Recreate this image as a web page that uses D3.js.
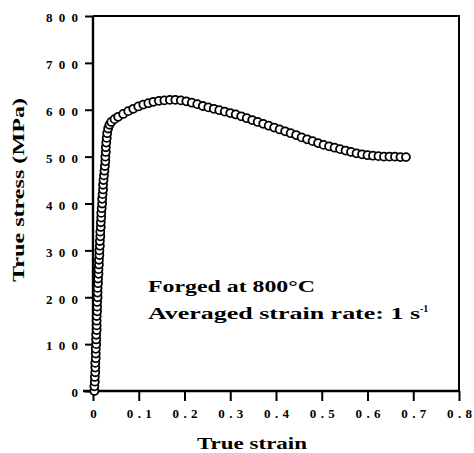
<!DOCTYPE html>
<html>
<head>
<meta charset="utf-8">
<script src="https://cdn.jsdelivr.net/npm/d3@7"></script>
<style>
  html, body { margin: 0; padding: 0; background: #fff; }
  svg { display: block; }
  text { font-family: "Liberation Serif", "Times New Roman", serif; font-weight: bold; fill: #000; }
</style>
</head>
<body>
<svg id="chart" width="474" height="453"></svg>
<script>
// Flow curve: true strain vs. true stress (MPa)
const strain = [
  0.003, 0.003, 0.004, 0.004, 0.005, 0.005, 0.005, 0.006, 0.006, 0.006,
  0.007, 0.007, 0.007, 0.008, 0.008, 0.008, 0.008, 0.009, 0.009, 0.009,
  0.010, 0.010, 0.010, 0.011, 0.011, 0.012, 0.012, 0.013, 0.013, 0.014,
  0.014, 0.015, 0.015, 0.016, 0.016, 0.017, 0.017, 0.018, 0.018, 0.019,
  0.020, 0.020, 0.021, 0.022, 0.022, 0.023, 0.024, 0.025, 0.026, 0.027,
  0.027, 0.028, 0.028, 0.029, 0.030, 0.031, 0.033, 0.036, 0.040,
  0.047, 0.055, 0.066, 0.077, 0.088, 0.099, 0.110, 0.121, 0.132, 0.144,
  0.156, 0.168, 0.180, 0.192, 0.204, 0.216, 0.228, 0.240, 0.252, 0.264,
  0.276, 0.288, 0.300, 0.312, 0.324, 0.336, 0.348, 0.360, 0.372, 0.384,
  0.396, 0.408, 0.420, 0.432, 0.444, 0.456, 0.468, 0.480, 0.492, 0.504,
  0.516, 0.528, 0.540, 0.552, 0.564, 0.576, 0.588, 0.600, 0.612, 0.624,
  0.636, 0.648, 0.660, 0.672, 0.684
];
const stress = [
  0, 10, 20, 30, 40, 50, 60, 70, 80, 90,
  100, 110, 120, 130, 140, 150, 160, 170, 180, 190,
  200, 210, 220, 230, 240, 250, 260, 270, 280, 290,
  300, 310, 320, 330, 340, 350, 360, 370, 380, 390,
  400, 410, 420, 430, 440, 450, 460, 470, 480, 490,
  500, 510, 520, 530, 540, 550, 560, 568, 574,
  580, 585, 591, 597, 602, 607, 611, 614, 617, 619,
  620, 621, 621, 620, 618, 615, 612, 608, 605, 602,
  599, 596, 593, 590, 586, 582, 578, 574, 570, 566,
  562, 558, 554, 550, 546, 541, 537, 533, 529, 525,
  522, 519, 516, 513, 510, 507, 505, 503, 502, 501,
  500, 500, 500, 499, 499
];

const xTicks = [0, 0.1, 0.2, 0.3, 0.4, 0.5, 0.6, 0.7, 0.8];
const yTicks = [0, 100, 200, 300, 400, 500, 600, 700, 800];
const xTickLabels = ["0", "0.1", "0.2", "0.3", "0.4", "0.5", "0.6", "0.7", "0.8"];
const yTickLabels = ["0", "100", "200", "300", "400", "500", "600", "700", "800"];

const svg = d3.select("#chart");
const plot = { left: 93, right: 459, top: 16, bottom: 391 };

const x = d3.scaleLinear().domain([0, 0.8]).range([plot.left, plot.right]);
const y = d3.scaleLinear().domain([0, 800]).range([plot.bottom, plot.top]);

// Frame: top and right edges
svg.append("path")
  .attr("d", `M${plot.left},${plot.top}H${plot.right}V${plot.bottom}`)
  .attr("fill", "none").attr("stroke", "#000").attr("stroke-width", 2);

// Y axis
const yAxis = svg.append("g")
  .attr("transform", `translate(${plot.left},0)`)
  .call(d3.axisLeft(y).tickValues(yTicks)
    .tickFormat((d, i) => yTickLabels[i]).tickSize(8).tickPadding(7));
yAxis.select(".domain").attr("stroke-width", 2.4).attr("d", `M0,${plot.top}V${plot.bottom}`);
yAxis.selectAll(".tick line").attr("stroke-width", 2);
yAxis.selectAll(".tick text")
  .attr("font-size", 13)
  .attr("font-family", "Liberation Serif")
  .attr("font-weight", "bold")
  .attr("dy", "0.45em")
  .each(function (d, i) {
    if (yTickLabels[i].length > 1) {
      d3.select(this).attr("textLength", 10 * yTickLabels[i].length + 2)
        .attr("lengthAdjust", "spacing");
    }
  });

// X axis
const xAxis = svg.append("g")
  .attr("transform", `translate(0,${plot.bottom})`)
  .call(d3.axisBottom(x).tickValues(xTicks)
    .tickFormat((d, i) => xTickLabels[i]).tickSize(10).tickPadding(8));
xAxis.select(".domain").attr("stroke-width", 2.4).attr("d", `M${plot.left - 10},0H${plot.right}`);
xAxis.selectAll(".tick line").attr("stroke-width", 2);
xAxis.selectAll(".tick text")
  .attr("font-size", 13)
  .attr("font-family", "Liberation Serif")
  .attr("font-weight", "bold")
  .each(function (d, i) {
    if (xTickLabels[i].length > 1) {
      d3.select(this).attr("textLength", 25).attr("lengthAdjust", "spacing");
    }
  });

// Axis titles
svg.append("text")
  .attr("x", 252).attr("y", 449)
  .attr("text-anchor", "middle")
  .attr("font-size", 16)
  .attr("textLength", 110).attr("lengthAdjust", "spacingAndGlyphs")
  .text("True strain");

svg.append("text")
  .attr("transform", "translate(24,190) rotate(-90)")
  .attr("text-anchor", "middle")
  .attr("font-size", 16)
  .attr("textLength", 184).attr("lengthAdjust", "spacingAndGlyphs")
  .text("True stress (MPa)");

// Annotation
svg.append("text")
  .attr("x", 148).attr("y", 292)
  .attr("font-size", 17)
  .attr("textLength", 167).attr("lengthAdjust", "spacingAndGlyphs")
  .text("Forged at 800°C");

const note2 = svg.append("text")
  .attr("x", 148).attr("y", 319)
  .attr("font-size", 17);
note2.append("tspan")
  .attr("textLength", 272).attr("lengthAdjust", "spacingAndGlyphs")
  .text("Averaged strain rate: 1 s");
note2.append("tspan")
  .attr("dy", -7).attr("font-size", 10)
  .text("-1");

// Data points: open circles
const points = strain.map((s, i) => ({ s, v: stress[i] }));
svg.append("g")
  .selectAll("circle")
  .data(points)
  .join("circle")
  .attr("cx", d => x(d.s))
  .attr("cy", d => y(d.v))
  .attr("r", 4)
  .attr("fill", "#fff")
  .attr("stroke", "#000")
  .attr("stroke-width", 1.8);
</script>
</body>
</html>
